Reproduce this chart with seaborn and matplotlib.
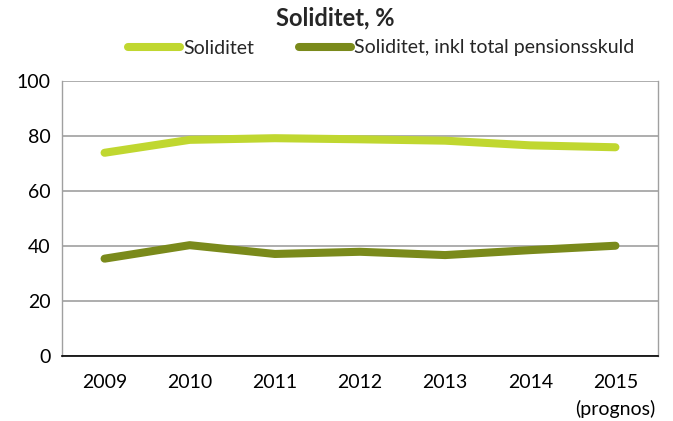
import matplotlib
matplotlib.use("Agg")
import matplotlib.pyplot as plt
import seaborn as sns
import pandas as pd

years = ["2009", "2010", "2011", "2012", "2013", "2014", "2015"]
tick_labels = ["2009", "2010", "2011", "2012", "2013", "2014", "2015\n(prognos)"]
soliditet = [73.9, 78.6, 79.2, 78.8, 78.3, 76.6, 75.9]
soliditet_inkl = [35.4, 40.3, 37.1, 37.9, 36.7, 38.5, 40.1]
series_names = ["Soliditet", "Soliditet, inkl total pensionsskuld"]
colors = ["#C0D730", "#7A8A1B"]

sns.set_theme(style="white")
plt.rcParams['font.family'] = ['Lato', 'DejaVu Sans']

df = pd.DataFrame({
    "year": years * 2,
    "value": soliditet + soliditet_inkl,
    "series": [series_names[0]] * len(years) + [series_names[1]] * len(years),
})

fig = plt.figure(figsize=(6.73, 4.21), dpi=100)
ax = fig.add_axes([62/673, 1 - 356/421, (658-62)/673, (356-81)/421])

sns.lineplot(data=df, x="year", y="value", hue="series", palette=colors,
             linewidth=5.8, ax=ax, sort=False, legend=True,
             solid_capstyle="round")

ax.set_xlim(-0.5, len(years) - 0.5)
ax.set_ylim(0, 100)
ax.set_yticks([0, 20, 40, 60, 80, 100])
ax.set_xticks(range(len(years)))
ax.set_xticklabels(tick_labels)
ax.tick_params(axis='both', labelsize=14, colors='black', length=0)
ax.tick_params(axis='x', pad=13)
ax.tick_params(axis='y', pad=8)
ax.set_xlabel("")
ax.set_ylabel("")
ax.yaxis.grid(True, color="#A0A0A0", linewidth=1.2)
ax.set_axisbelow(True)
ax.spines["top"].set_visible(False)
ax.spines["left"].set_color("#A0A0A0")
ax.spines["left"].set_linestyle((0, (2, 1)))
ax.spines["left"].set_linewidth(1.0)
ax.spines["right"].set_visible(True)
ax.spines["right"].set_color("#A0A0A0")
ax.spines["right"].set_linewidth(1.0)
ax.spines["bottom"].set_color("black")
ax.spines["bottom"].set_linewidth(1.2)

for lbl in ax.get_xticklabels():
    lbl.set_horizontalalignment('center')
    lbl.set_linespacing(1.6)

handles, labels = ax.get_legend_handles_labels()
ax.get_legend().remove()
leg = fig.legend(handles, labels, loc="center", bbox_to_anchor=(381/673, 1 - 48/421),
                 ncol=2, frameon=False, fontsize=14, handlelength=2.7,
                 handletextpad=0.15, columnspacing=2.3)
for h in leg.get_lines():
    h.set_linewidth(5.8)
    h.set_solid_capstyle("round")

fig.text(335/673, 1 - 18/421, "Soliditet, %", ha="center", va="center",
         fontsize=17, fontweight="bold")

fig.savefig("out.png", dpi=100)
